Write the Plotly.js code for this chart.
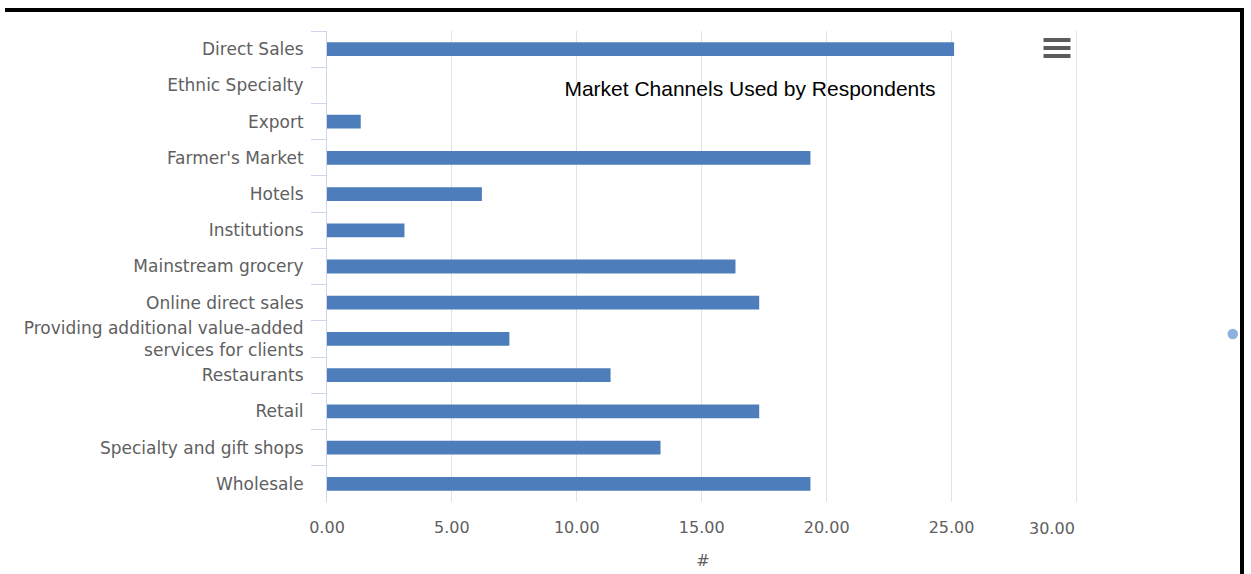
<!DOCTYPE html>
<html>
<head>
<meta charset="utf-8">
<script src="https://cdn.plot.ly/plotly-3.0.1.min.js"></script>
<style>
  html, body { margin: 0; padding: 0; background: #fff; }
  body { width: 1251px; height: 574px; overflow: hidden; position: relative; }
  #chart { width: 1251px; height: 574px; position: absolute; left: 0; top: 0; }
  #frame {
    position: absolute; left: 5px; top: 8px; width: 1235px; height: 600px;
    border-top: 4px solid #000; border-right: 4px solid #000;
    pointer-events: none;
  }
</style>
</head>
<body>
<div id="chart"></div>
<div id="frame"></div>
<script>
// Market channels and the number of respondents using each
const channels = [
  "Direct Sales",
  "Ethnic Specialty",
  "Export",
  "Farmer's Market",
  "Hotels",
  "Institutions",
  "Mainstream grocery",
  "Online direct sales",
  "Providing additional value-added<br>services for clients",
  "Restaurants",
  "Retail",
  "Specialty and gift shops",
  "Wholesale"
];
const respondents = [25.1, 0, 1.35, 19.35, 6.2, 3.1, 16.35, 17.3, 7.3, 11.35, 17.3, 13.35, 19.35];

const xTickVals = [0, 5, 10, 15, 20, 25, 30];
const xTickText = ["0.00", "5.00", "10.00", "15.00", "20.00", "25.00", ""];
const lastTickLabel = "30.00";

const W = 1251, H = 574;
const M = { l: 327, r: 172, t: 31, b: 72 };
const plotW = W - M.l - M.r, plotH = H - M.t - M.b;
// pixel -> paper helpers for decorations
const px = x => (x - M.l) / plotW;
const py = y => 1 - (y - M.t) / plotH;

const labelFont = { family: "DejaVu Sans, sans-serif", size: 16, color: "#606060" };

// menu icon (three bars)
const menuBars = [40, 48, 56].map(cy => ({
  type: "rect", xref: "paper", yref: "paper",
  x0: px(1043.5), x1: px(1070.5), y0: py(cy - 2), y1: py(cy + 2),
  fillcolor: "#5c5c5c", line: { width: 0 }, layer: "above"
}));

const dot = {
  type: "circle", xref: "paper", yref: "paper",
  x0: px(1227.5), x1: px(1238), y0: py(328.8), y1: py(339.2),
  fillcolor: "#8db0dd", line: { width: 0 }, layer: "above"
};

const trace = {
  type: "bar",
  orientation: "h",
  y: channels,
  x: respondents,
  width: 0.38,
  marker: { color: "#4d7ebb", line: { width: 0 } },
  hoverinfo: "skip"
};

const layout = {
  width: W, height: H,
  margin: M,
  paper_bgcolor: "#ffffff",
  plot_bgcolor: "#ffffff",
  showlegend: false,
  title: {
    text: "Market Channels Used by Respondents",
    font: { family: "Liberation Sans, Arial, sans-serif", size: 21, color: "#000000" },
    xref: "paper", x: px(750), xanchor: "center",
    yref: "container", y: 1 - 89 / H, yanchor: "middle"
  },
  xaxis: {
    range: [0, 30.1],
    tickvals: xTickVals,
    ticktext: xTickText,
    showgrid: true, gridcolor: "#e3e3e3", gridwidth: 1,
    zeroline: false, showline: false,
    ticks: "",
    ticklabelstandoff: 14,
    tickfont: labelFont,
    title: { text: "#", font: labelFont, standoff: 18 },
    fixedrange: true
  },
  yaxis: {
    type: "category",
    autorange: "reversed",
    showgrid: false, zeroline: false,
    showline: true, linecolor: "#ccd6eb", linewidth: 1,
    ticks: "outside", tickson: "boundaries", ticklen: 15, tickcolor: "#ccd6eb", tickwidth: 1,
    ticklabelstandoff: 19,
    tickfont: { family: "DejaVu Sans, sans-serif", size: 17, color: "#606060" },
    fixedrange: true
  },
  annotations: [{
    xref: "x", yref: "paper", x: 30, y: 0,
    text: lastTickLabel, showarrow: false,
    xanchor: "center", yanchor: "top", xshift: -25, yshift: -15,
    font: labelFont
  }],
  shapes: [...menuBars, dot]
};

Plotly.newPlot("chart", [trace], layout, { displayModeBar: false, staticPlot: true });
</script>
</body>
</html>
